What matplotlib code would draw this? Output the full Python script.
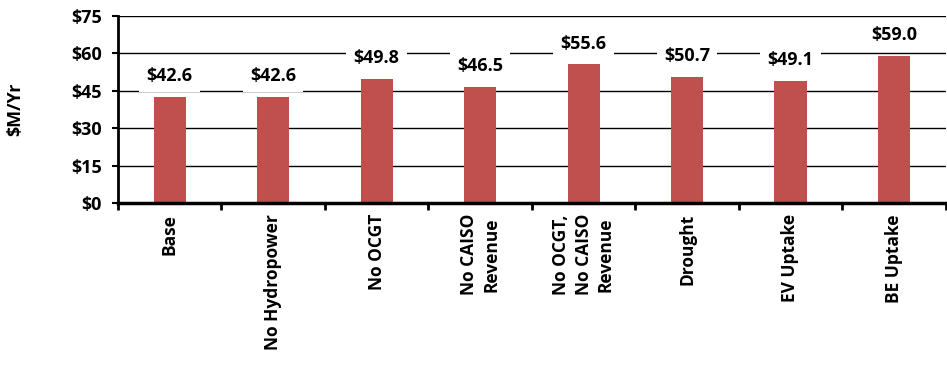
import numpy as np
import matplotlib.pyplot as plt

plt.rcParams['font.family'] = ['Open Sans', 'DejaVu Sans']
plt.rcParams['font.weight'] = 'bold'

scenarios = ['Base', 'No Hydropower', 'No OCGT', 'No CAISO\nRevenue',
             'No OCGT,\nNo CAISO\nRevenue', 'Drought', 'EV Uptake', 'BE Uptake']
cost = [42.6, 42.6, 49.8, 46.5, 55.6, 50.7, 49.1, 59.0]
yticks = [0, 15, 30, 45, 60, 75]

fig = plt.figure(figsize=(9.47, 3.67), dpi=100)
ax = fig.add_axes([0.1246, 0.447, 0.874, 0.5094])

x = np.arange(len(cost))
ax.bar(x, cost, width=0.31, color='#C0504D', zorder=2)

# data labels with white boxes cutting the grid
for xi, v in zip(x, cost):
    ax.annotate(f'${v:.1f}', (xi, v), xytext=(0, 15), textcoords='offset points',
                ha='center', va='center', fontsize=13, fontweight='bold',
                bbox=dict(boxstyle='square,pad=0.4', fc='white', ec='none'), zorder=3)

ax.set_xlim(-0.5, len(cost) - 0.5)
ax.set_ylim(0, 75)
ax.set_yticks(yticks)
ax.set_yticklabels([f'${t}' for t in yticks], fontsize=13, fontweight='bold')
ax.yaxis.grid(True, color='black', linewidth=1)
ax.set_axisbelow(True)

# category labels between boundary ticks
ax.set_xticks(np.arange(len(cost) + 1) - 0.5)
ax.set_xticklabels([])
ax.set_xticks(x, minor=True)
ax.set_xticklabels(scenarios, minor=True, rotation=90, ha='center', va='top',
                   multialignment='center', fontsize=12.5, fontweight='bold',
                   linespacing=1.3)
ax.tick_params(axis='x', which='minor', length=0, pad=8)
ax.tick_params(axis='x', which='major', length=5, width=2, direction='out')
ax.tick_params(axis='y', length=4.5, width=1.5, direction='out', pad=7)

for s in ['top', 'right']:
    ax.spines[s].set_visible(False)
ax.spines['left'].set_linewidth(2)
ax.spines['bottom'].set_linewidth(2.5)

ax.set_ylabel('$M/Yr', fontsize=13, fontweight='bold', labelpad=34)

fig.savefig('out.png', dpi=100)
